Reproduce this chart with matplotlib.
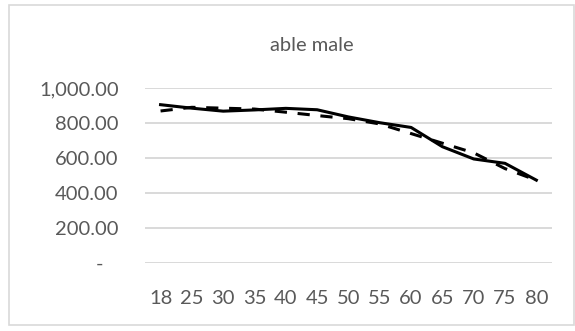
import matplotlib.pyplot as plt
import matplotlib.patches as patches
from matplotlib.ticker import FuncFormatter
import numpy as np

# ages on the category axis
ages = ['18', '25', '30', '35', '40', '45', '50', '55', '60', '65', '70', '75', '80']

# two series for able males
solid_vals = [905, 885, 868, 875, 884, 876, 835, 802, 775, 665, 595, 570, 474]
dashed_vals = [869, 890, 885, 880, 862, 843, 825, 795, 740, 685, 630, 540, 474]

yticks = [0, 200, 400, 600, 800, 1000]
title = 'able male'

txt_col = '#595959'
grid_col = '#d9d9d9'
fsize = 14.5

plt.rcParams['font.family'] = ['Lato', 'DejaVu Sans']

fig = plt.figure(figsize=(5.75, 3.31), dpi=100)
ax = fig.add_axes([0.252, 0.205, 0.708, 0.529])

x = np.arange(len(ages))
ax.plot(x, dashed_vals, color='black', lw=2.2, linestyle=(0, (4, 3.5)),
        solid_capstyle='butt', zorder=3)
ax.plot(x, solid_vals, color='black', lw=2.2, zorder=4)

ax.set_xlim(-0.5, len(ages) - 0.5)
ax.set_ylim(0, 1000)
ax.set_xticks(x)
ax.set_xticklabels(ages)
ax.set_yticks(yticks)

def acct(v, pos):
    # accounting style: zero shown as a dash
    if v == 0:
        return '-   '
    return '{:,.2f}'.format(v)

ax.yaxis.set_major_formatter(FuncFormatter(acct))
ax.tick_params(axis='both', length=0, labelsize=fsize, labelcolor=txt_col)
ax.tick_params(axis='y', pad=19)
ax.tick_params(axis='x', pad=19)

ax.grid(axis='y', color=grid_col, lw=1.4)
ax.set_axisbelow(True)
for s in ax.spines.values():
    s.set_visible(False)

fig.text(0.543, 0.862, title, ha='center', va='center', fontsize=fsize, color=txt_col)

# chart area border
fig.patches.append(patches.Rectangle((0.0157, 0.018), 0.983, 0.967,
                                     transform=fig.transFigure, fill=False,
                                     edgecolor=grid_col, lw=1.2))

fig.savefig('out.png', dpi=100)
